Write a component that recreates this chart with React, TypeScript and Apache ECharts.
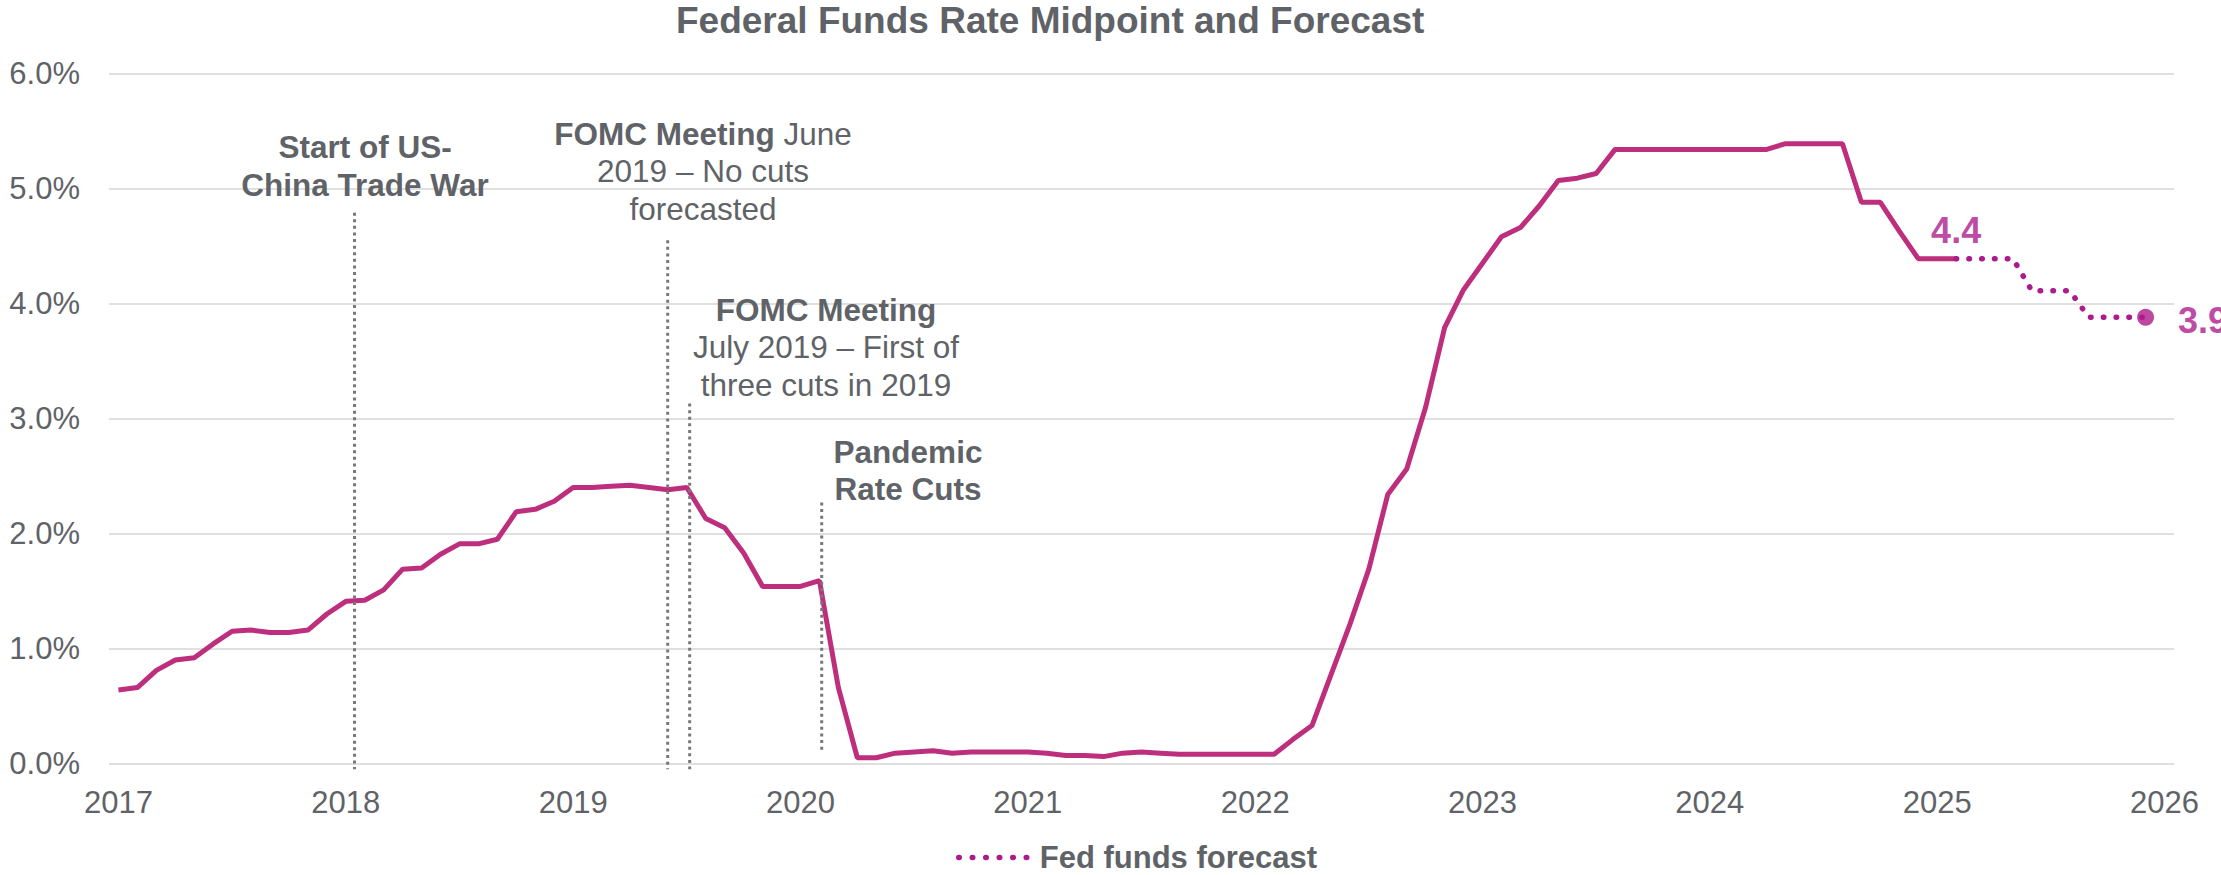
import React, { useEffect, useRef } from 'react';
import * as echarts from 'echarts';

// ---------- data ----------
const yearLabels = ['2017', '2018', '2019', '2020', '2021', '2022', '2023', '2024', '2025', '2026'];

// Monthly fed funds rate (%), Jan 2017 .. Feb 2025
const historicalRate = [
  // 2017
  0.64, 0.66, 0.81, 0.90, 0.92, 1.04, 1.15, 1.16, 1.14, 1.14, 1.16, 1.30,
  // 2018
  1.41, 1.42, 1.51, 1.69, 1.70, 1.82, 1.91, 1.91, 1.95, 2.19, 2.21, 2.28,
  // 2019
  2.40, 2.40, 2.41, 2.42, 2.40, 2.38, 2.40, 2.13, 2.05, 1.83, 1.54, 1.54,
  // 2020
  1.54, 1.59, 0.66, 0.05, 0.05, 0.09, 0.10, 0.11, 0.09, 0.10, 0.10, 0.10,
  // 2021
  0.10, 0.09, 0.07, 0.07, 0.06, 0.09, 0.10, 0.09, 0.08, 0.08, 0.08, 0.08,
  // 2022
  0.08, 0.08, 0.21, 0.33, 0.77, 1.21, 1.69, 2.34, 2.56, 3.10, 3.79, 4.12,
  // 2023
  4.35, 4.58, 4.66, 4.85, 5.07, 5.09, 5.13, 5.34, 5.34, 5.34, 5.34, 5.34,
  // 2024
  5.34, 5.34, 5.34, 5.34, 5.39, 5.39, 5.39, 5.39, 4.88, 4.88, 4.63, 4.39,
  // 2025
  4.39, 4.39,
];

// Forecast, Feb 2025 .. Dec 2025
const forecastRate = [4.39, 4.39, 4.39, 4.39, 4.11, 4.11, 4.11, 3.88, 3.88, 3.88, 3.88];
const forecastStartMonth = 97; // Feb 2025, months since Jan 2017

// Event marker lines (months since Jan 2017, top / bottom in %)
const eventMonths = [12.46, 28.99, 30.15, 37.12];
const eventTops = [4.79, 4.55, 3.13, 2.27];
const eventBottoms = [-0.05, -0.05, -0.05, 0.09];

// ---------- styles ----------
const FONT = "'Liberation Sans', Arial, Helvetica, sans-serif";
const TEXT = '#5F6368';
const LINE_COLOR = '#BD2F7D';
const FC_COLOR = '#AC1A8B';

function txt(text: string, x: number, y: number, bold: boolean) {
  return {
    type: 'text',
    x,
    y,
    z: 10,
    style: {
      text,
      fill: TEXT,
      fontSize: 31.5,
      fontWeight: bold ? 'bold' : 'normal',
      fontFamily: FONT,
      align: 'center',
      verticalAlign: 'middle',
      textAlign: 'center',
      textVerticalAlign: 'middle',
    },
  };
}

export default function App() {
  const ref = useRef<HTMLDivElement>(null);

  useEffect(() => {
    document.body.style.margin = '0';
    if (!ref.current) return;
    const chart = echarts.init(ref.current, undefined, { renderer: 'svg' });

    const histData = historicalRate.map((v, i) => [i, v]);
    const fcData = forecastRate.map((v, i) => [forecastStartMonth + i, v]);
    const lastIdx = forecastRate.length - 1;

    const juneLine1 = {
      type: 'text',
      x: 703,
      y: 134,
      z: 10,
      style: {
        text: '{b|FOMC Meeting} June',
        fill: TEXT,
        fontSize: 31.5,
        fontFamily: FONT,
        fontWeight: 'normal',
        align: 'center',
        verticalAlign: 'middle',
        textAlign: 'center',
        textVerticalAlign: 'middle',
        rich: {
          b: { fontSize: 31.5, fontFamily: FONT, fontWeight: 'bold', fill: TEXT },
        },
      },
    };

    const option: any = {
      animation: false,
      backgroundColor: '#ffffff',
      title: {
        text: 'Federal Funds Rate Midpoint and Forecast',
        left: 676,
        top: 2,
        padding: 0,
        textStyle: { fontSize: 37, fontWeight: 'bold', color: TEXT, fontFamily: FONT },
      },
      grid: { left: 109, right: 47, top: 73.5, bottom: 111.5, containLabel: false },
      legend: {
        data: ['Fed funds forecast'],
        left: 956,
        top: 842,
        padding: 0,
        itemWidth: 70,
        itemHeight: 10,
        itemStyle: { color: 'rgba(0,0,0,0)', opacity: 0, borderWidth: 0 },
        lineStyle: { width: 5.5, type: [0.5, 13], cap: 'round', color: FC_COLOR },
        textStyle: {
          fontSize: 31,
          fontWeight: 'bold',
          color: TEXT,
          fontFamily: FONT,
          lineHeight: 30,
          padding: [0, 0, 0, 6],
        },
      },
      xAxis: {
        type: 'value',
        min: -0.5,
        max: 108.5,
        axisLine: { show: false },
        axisTick: { show: false },
        splitLine: { show: false },
        axisLabel: {
          customValues: yearLabels.map((_, i) => i * 12),
          formatter: (v: number) => yearLabels[Math.round(v / 12)],
          fontSize: 31,
          color: TEXT,
          fontFamily: FONT,
          margin: 23,
        },
      },
      yAxis: {
        type: 'value',
        min: 0,
        max: 6,
        interval: 1,
        axisLine: { show: false },
        axisTick: { show: false },
        splitLine: { lineStyle: { color: '#E0E0E0', width: 2 } },
        axisLabel: {
          formatter: (v: number) => v.toFixed(1) + '%',
          fontSize: 31,
          color: TEXT,
          fontFamily: FONT,
          margin: 29,
        },
      },
      series: [
        {
          name: 'Fed funds rate',
          type: 'line',
          data: histData,
          symbol: 'none',
          z: 2,
          lineStyle: { color: LINE_COLOR, width: 5 },
        },
        {
          name: 'Fed funds forecast',
          type: 'line',
          data: fcData,
          symbol: 'none',
          z: 2,
          itemStyle: { color: FC_COLOR },
          lineStyle: { color: FC_COLOR, width: 5.5, type: [0.5, 12.3], cap: 'round' },
        },
        {
          name: 'Endpoints',
          type: 'scatter',
          z: 4,
          data: [
            {
              value: fcData[0],
              symbolSize: 1,
              itemStyle: { color: 'rgba(0,0,0,0)' },
              label: { show: true, position: 'top', distance: 10 },
            },
            {
              value: fcData[lastIdx],
              symbolSize: 17,
              itemStyle: { color: FC_COLOR },
              label: { show: true, position: 'right', distance: 24, offset: [0, 3] },
            },
          ],
          label: {
            formatter: (p: any) => p.value[1].toFixed(1),
            fontSize: 36,
            fontWeight: 'bold',
            color: FC_COLOR,
            fontFamily: FONT,
          },
        },
        {
          name: 'Events',
          type: 'custom',
          z: 5,
          data: eventMonths.map((m, i) => [m, eventTops[i], eventBottoms[i]]),
          encode: { x: 0, y: [1, 2] },
          renderItem: (params: any, api: any) => {
            const x = api.value(0);
            const p1 = api.coord([x, api.value(1)]);
            const p2 = api.coord([x, api.value(2)]);
            return {
              type: 'line',
              shape: { x1: p1[0], y1: p1[1], x2: p2[0], y2: p2[1] },
              style: { stroke: '#787878', lineWidth: 3, lineDash: [3, 3.6] },
            };
          },
        },
      ],
      graphic: [
        txt('Start of US-', 365, 146.5, true),
        txt('China Trade War', 365, 185, true),
        juneLine1,
        txt('2019 \u2013 No cuts', 703, 171, false),
        txt('forecasted', 703, 208.5, false),
        txt('FOMC Meeting', 826, 309.5, true),
        txt('July 2019 \u2013 First of', 826, 347, false),
        txt('three cuts in 2019', 826, 385, false),
        txt('Pandemic', 908, 451.5, true),
        txt('Rate Cuts', 908, 488.5, true),
      ],
    };

    chart.setOption(option);
    return () => chart.dispose();
  }, []);

  return <div ref={ref} style={{ width: 2221, height: 875 }} />;
}
